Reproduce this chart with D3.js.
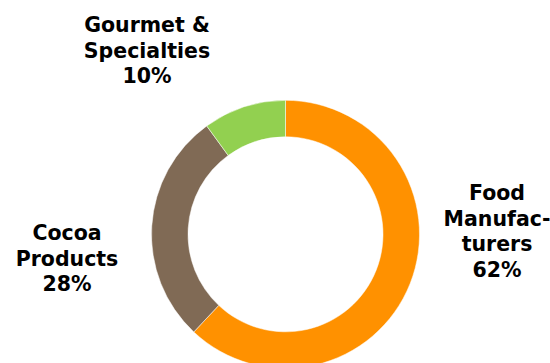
<!DOCTYPE html>
<html>
<head>
<meta charset="utf-8">
<script src="https://cdn.jsdelivr.net/npm/d3@7"></script>
<style>
  html, body { margin: 0; padding: 0; background: #fff; }
  svg { display: block; }
  text { font-family: "DejaVu Sans", Verdana, sans-serif; font-weight: bold; fill: #000; }
</style>
</head>
<body>
<svg id="chart" width="550" height="363"></svg>
<script>
// Segment share data
const categories = ["Food Manufacturers", "Cocoa Products", "Gourmet & Specialties"];
const shares = [62, 28, 10];
const colors = ["#FF9100", "#806A55", "#92D050"];
// Label lines for each segment (last line is the share)
const labelLines = [
  ["Food", "Manufac-", "turers"],
  ["Cocoa", "Products"],
  ["Gourmet &", "Specialties"]
];
const labelAnchors = [[497, 200], [67, 240], [147, 32]];

const width = 550, height = 363;
const cx = 285.5, cy = 234.3;
const outerR = 134, innerR = 97.5;

const svg = d3.select("#chart");
const g = svg.append("g").attr("transform", `translate(${cx},${cy})`);

const data = categories.map((c, i) => ({ name: c, value: shares[i], color: colors[i], lines: labelLines[i], anchor: labelAnchors[i] }));

const pie = d3.pie().sort(null).value(d => d.value);
const arc = d3.arc().innerRadius(innerR).outerRadius(outerR);

g.selectAll("path")
  .data(pie(data))
  .join("path")
  .attr("d", arc)
  .attr("fill", d => d.data.color)
  .attr("stroke", "#fff")
  .attr("stroke-width", 0.5);

// Category labels
const lineH = 25.5;
const labels = svg.selectAll("text.lbl")
  .data(data)
  .join("text")
  .attr("class", "lbl")
  .attr("text-anchor", "middle")
  .attr("font-size", 20.5);

labels.each(function(d) {
  const t = d3.select(this);
  const lines = d.lines.concat([d.value + "%"]);
  lines.forEach((ln, k) => {
    t.append("tspan")
      .attr("x", d.anchor[0])
      .attr("y", d.anchor[1] + k * lineH)
      .text(ln);
  });
});
</script>
</body>
</html>
